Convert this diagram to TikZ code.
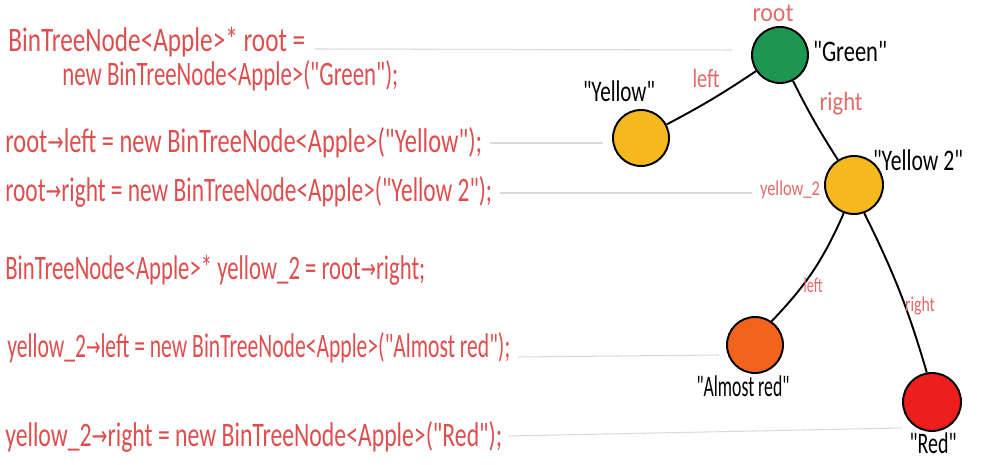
\documentclass[tikz,border=0pt]{standalone}
\usepackage{fontspec}
\usepackage{graphicx}
\newfontfamily\hand{Carlito}
\newfontfamily\arrfont{DejaVu Sans}
\newcommand{\rarr}{{\arrfont\raisebox{0.1ex}{\scalebox{0.8}{→}}}}
\newcommand{\codefit}[2]{\resizebox{#1}{\height}{\hand\fontsize{19.5}{21}\selectfont #2}}
\newcommand{\fitw}[3]{\resizebox{#1}{\height}{\hand\fontsize{#2}{#2}\selectfont #3}}
\definecolor{codered}{RGB}{222,78,78}
\definecolor{lblred}{RGB}{228,105,105}
\definecolor{guide}{RGB}{218,218,218}
\definecolor{appgreen}{RGB}{28,150,80}
\definecolor{appyellow}{RGB}{245,185,30}
\definecolor{apporange}{RGB}{242,100,30}
\definecolor{appred}{RGB}{236,30,30}
\tikzset{
  code/.style={inner sep=0pt, anchor=base west, text=codered},
  apple/.style={circle, draw=black, line width=1.1pt, minimum size=1.12cm, inner sep=0pt},
  val/.style={inner sep=0pt, text=black},
  ptr/.style={inner sep=0pt, text=lblred},
  edge/.style={draw=black, line width=1.1pt},
  guideline/.style={draw=guide, line width=0.6pt}
}
\begin{document}
\begin{tikzpicture}[x=0.02cm,y=-0.02cm]
\useasboundingbox (0,0) rectangle (1000,465);
% code lines
\node[code] (c1) at (8,52) {\codefit{5.94cm}{BinTreeNode<Apple>* root =}};
\node[code] (c2) at (62,86) {\codefit{6.72cm}{new BinTreeNode<Apple>("Green");}};
\node[code] (c3) at (5,153) {\codefit{9.54cm}{root\rarr left = new BinTreeNode<Apple>("Yellow");}};
\node[code] (c4) at (5,202) {\codefit{9.74cm}{root\rarr right = new BinTreeNode<Apple>("Yellow 2");}};
\node[code] (c5) at (5,280) {\codefit{8.40cm}{BinTreeNode<Apple>* yellow\_2 = root\rarr right;}};
\node[code] (c6) at (7,358) {\codefit{10.06cm}{yellow\_2\rarr left = new BinTreeNode<Apple>("Almost red");}};
\node[code] (c7) at (5,447) {\codefit{9.94cm}{yellow\_2\rarr right = new BinTreeNode<Apple>("Red");}};
% guide line end points
\coordinate (g1a) at (315,49); \coordinate (g1b) at (732,50);
\coordinate (g3a) at (490,143); \coordinate (g3b) at (603,143);
\coordinate (g4a) at (500,193); \coordinate (g4b) at (752,193);
\coordinate (g6a) at (518,357); \coordinate (g6b) at (719,355);
\coordinate (g7a) at (508,436); \coordinate (g7b) at (902,428);
\draw[guideline] (g1a) -- (g1b);
\draw[guideline] (g3a) -- (g3b);
\draw[guideline] (g4a) -- (g4b);
\draw[guideline] (g6a) -- (g6b);
\draw[guideline] (g7a) -- (g7b);
% tree nodes
\node[apple, fill=appgreen] (green) at (780,55) {};
\node[apple, fill=appyellow] (yellow) at (641,138) {};
\node[apple, fill=appyellow, minimum size=1.16cm] (yellow2) at (854,185) {};
\node[apple, fill=apporange] (almost) at (755,345) {};
\node[apple, fill=appred, minimum size=1.16cm] (red) at (932,402) {};
% edges
\draw[edge] (green) to[bend left=3] (yellow);
\draw[edge] (green) to[bend right=3] (yellow2);
\draw[edge] (yellow2.250) to[bend left=10] (almost.55);
\draw[edge] (yellow2.290) to[bend left=5] (red.100);
% value labels
\node[val] (lgreen) at (850,52) {\fitw{1.48cm}{17}{"Green"}};
\node[val] (lyellow) at (619,91) {\fitw{1.44cm}{17}{"Yellow"}};
\node[val] (lyellow2) at (918,160) {\fitw{1.80cm}{17}{"Yellow 2"}};
\node[val] (lalmost) at (743,386) {\fitw{1.86cm}{17}{"Almost red"}};
\node[val] (lred) at (933,443) {\fitw{0.94cm}{17}{"Red"}};
% pointer labels
\node[ptr] (proot) at (773,13) {\fitw{0.82cm}{15}{root}};
\node[ptr] (pleft) at (706,78) {\fitw{0.54cm}{15}{left}};
\node[ptr] (pright) at (841,104) {\fitw{0.86cm}{15}{right}};
\node[ptr] (py2) at (790,190) {\fitw{1.20cm}{12}{yellow\_2}};
\node[ptr] (pleft2) at (813,285) {\fitw{0.38cm}{12}{left}};
\node[ptr] (pright2) at (920,306) {\fitw{0.60cm}{12}{right}};
\end{tikzpicture}
\end{document}
